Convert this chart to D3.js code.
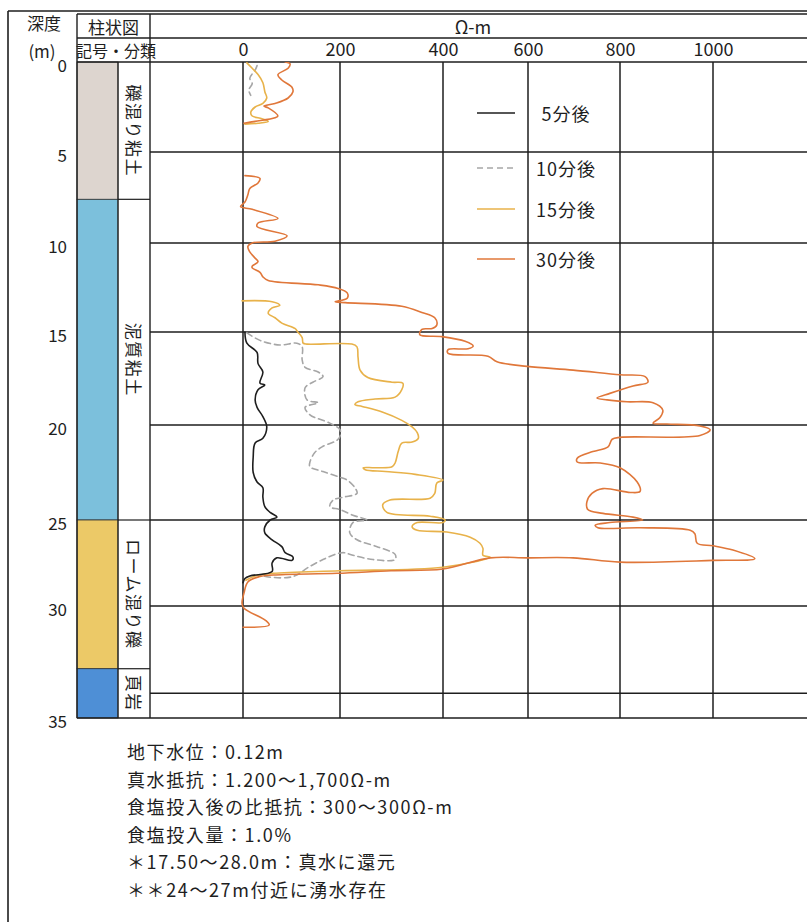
<!DOCTYPE html>
<html><head><meta charset="utf-8">
<script src="https://cdn.jsdelivr.net/npm/d3@7/dist/d3.min.js"></script>
<style>
html,body{margin:0;padding:0;background:#fff;}
svg{display:block;font-family:"Noto Sans CJK JP","Noto Sans",sans-serif;}
</style></head><body>
<svg id="c" width="807" height="922"></svg>
<script>
// ---------------- data ----------------
const resistTicks = [0, 200, 400, 600, 800, 1000];
const depthTicks = [0, 5, 10, 15, 20, 25, 30, 35];
const gridDepths = [5, 10, 15, 20, 25, 30, 33.9];
const unitLabel = "Ω-m";
const strataNames = ["礫混り粘土", "泥質粘土", "ローム混り礫", "頁岩"];
const strataTop = [0, 7.6, 25, 32.8];
const strataBottom = [7.6, 25, 32.8, 35];
const seriesNames = ["5分後", "10分後", "15分後", "30分後"];
const notes = [
  "地下水位：0.12m",
  "真水抵抗：1.200〜1,700Ω-m",
  "食塩投入後の比抵抗：300〜300Ω-m",
  "食塩投入量：1.0%",
  "＊17.50〜28.0m：真水に還元",
  "＊＊24〜27m付近に湧水存在"
];

// [depth (m), resistivity (Ω-m)]
const min5 = [[15.0,4],[15.6,8],[16.1,29],[16.7,31],[17.15,41],[17.75,35],[17.85,45],[18.1,31],[18.65,25],[19.05,29],[19.55,41],[20.1,49],[20.7,41],[20.95,25],[21.7,21],[22.5,21],[23.0,29],[23.3,41],[23.8,41],[24.3,45],[24.6,56],[24.85,70],[25.0,56],[25.4,45],[25.75,45],[26.15,60],[26.55,80],[26.9,87],[27.15,103],[27.35,101],[27.2,70],[27.5,60],[28.0,60],[28.25,14],[28.4,4],[28.65,0]];
const min10Top = [[0.2,29],[0.45,25],[0.9,14],[1.2,19],[1.55,12],[1.85,16]];
const min10 = [[15.05,8],[15.45,35],[15.7,76],[15.6,111],[15.8,122],[16.5,122],[16.9,128],[17.15,155],[17.4,165],[17.7,144],[18.0,128],[18.65,132],[18.8,155],[19.05,128],[19.45,138],[19.9,179],[20.25,200],[20.6,200],[20.8,194],[21.15,163],[21.45,148],[21.95,138],[22.2,138],[22.45,165],[22.75,200],[22.9,214],[23.3,229],[23.6,233],[23.8,206],[23.95,186],[24.3,179],[24.45,200],[24.75,225],[25.0,252],[25.15,225],[25.75,219],[26.15,233],[26.55,272],[27.0,307],[27.3,307],[27.3,264],[27.05,225],[26.9,204],[27.3,165],[27.8,132],[28.2,111],[28.35,91],[28.3,49],[28.2,35]];
const min15Top = [[0.05,8],[0.35,19],[0.7,31],[1.15,41],[1.65,45],[2.0,49],[2.3,41],[2.5,25],[2.8,16],[3.0,19],[3.15,39],[3.3,52],[3.4,31],[3.45,4]];
const min15 = [[13.25,-2],[13.3,60],[13.5,76],[13.65,60],[13.95,52],[14.2,66],[14.5,80],[14.8,107],[15.0,113],[15.3,122],[15.6,124],[15.65,132],[15.65,223],[15.8,233],[16.35,235],[17.05,239],[17.45,254],[17.7,301],[17.75,322],[18.1,320],[18.5,307],[18.6,268],[18.75,235],[18.9,229],[19.0,243],[19.3,282],[19.75,320],[20.1,340],[20.4,350],[20.7,352],[20.9,340],[20.95,320],[21.4,313],[22.0,307],[22.2,301],[22.25,268],[22.25,245],[22.35,249],[22.45,288],[22.6,346],[22.9,400],[23.05,388],[23.6,384],[23.85,375],[23.95,297],[24.2,283],[24.6,291],[24.8,375],[25.0,405],[25.15,400],[25.15,350],[25.4,340],[25.6,350],[25.7,409],[26.0,464],[26.35,487],[26.65,494],[27.05,494],[27.15,511],[27.75,400],[27.95,200],[28.1,62],[28.25,25],[28.5,6]];
const min30Top = [[0,87],[0.1,97],[0.35,93],[0.7,72],[1.0,80],[1.4,101],[1.65,103],[2.0,93],[2.3,66],[2.45,43],[2.55,52],[3.0,72],[3.1,66],[3.3,25],[3.4,2]];
const min30 = [[6.3,4],[6.45,35],[6.7,31],[7.0,14],[7.35,10],[7.75,4],[8.0,-5],[8.15,19],[8.65,72],[8.9,31],[9.1,29],[9.6,91],[9.9,66],[10.0,19],[10.2,10],[10.5,14],[10.85,25],[11.05,31],[11.3,19],[11.4,19],[11.65,35],[11.9,41],[12.1,52],[12.35,155],[12.55,196],[12.8,214],[13.1,214],[13.3,190],[13.35,210],[13.55,320],[13.9,359],[14.2,384],[14.6,388],[14.8,379],[14.85,359],[15.15,355],[15.25,398],[15.5,452],[15.75,471],[15.9,459],[15.95,412],[16.15,412],[16.3,506],[16.6,527],[16.85,598],[17.05,698],[17.3,800],[17.4,854],[17.7,860],[17.9,828],[18.3,778],[18.55,750],[18.65,772],[18.75,815],[18.8,871],[19.2,892],[19.6,886],[19.9,871],[19.95,901],[20.05,972],[20.25,994],[20.55,972],[20.65,800],[20.75,783],[21.15,774],[21.4,741],[21.75,707],[21.95,707],[22.0,757],[22.25,800],[23.0,837],[23.5,843],[23.55,822],[23.35,763],[23.6,739],[24.05,728],[24.45,730],[24.65,763],[24.85,828],[25.0,849],[25.15,778],[25.3,746],[25.45,752],[25.45,843],[25.6,951],[25.8,961],[26.35,966],[26.5,1000],[26.75,1043],[27.25,1090],[27.35,1000],[27.45,800],[27.2,698],[27.2,598],[27.2,511],[27.85,400],[27.95,299],[28.1,194],[28.2,62],[28.3,33],[28.6,10],[29.25,2],[29.85,-2],[30.1,2],[30.65,47],[30.85,54],[30.95,0]];

// ---------------- layout / style ----------------
const W = 807, H = 922;
const svg = d3.select("#c");
svg.append("rect").attr("width", W).attr("height", H).attr("fill", "#fff");

const x = d3.scaleLinear().domain(resistTicks).range([243, 340, 443, 528, 620, 713]);
const y = d3.scaleLinear().domain(depthTicks).range([62, 152, 243, 332, 425, 520, 606, 718]);

const colL = 77, colM = 118, colR = 150, plotR = 807;
const hdrTop = 14, hdrMid = 38;
const ink = "#1e1e1e";
const strataColors = ["#ddd5cf", "#7cc0dc", "#ecc967", "#4e8fd6"];
const seriesColors = ["#1e1e1e", "#a6a6a6", "#e8b24a", "#e0773a"];
const seriesDash = [null, "6,4", null, null];

function hline(x1, x2, yy, w) {
  svg.append("line").attr("x1", x1).attr("x2", x2).attr("y1", yy).attr("y2", yy)
    .attr("stroke", ink).attr("stroke-width", w || 1.4);
}
function vline(xx, y1, y2, w) {
  svg.append("line").attr("x1", xx).attr("x2", xx).attr("y1", y1).attr("y2", y2)
    .attr("stroke", ink).attr("stroke-width", w || 1.4);
}

// strata column
const strata = strataNames.map((n, i) => ({name: n, top: strataTop[i], bot: strataBottom[i], color: strataColors[i]}));
svg.append("g").selectAll("rect").data(strata).join("rect")
  .attr("x", colL).attr("width", colM - colL)
  .attr("y", d => y(d.top)).attr("height", d => y(d.bot) - y(d.top))
  .attr("fill", d => d.color).attr("stroke", "#333").attr("stroke-width", 0.8);
svg.append("g").selectAll("line").data(strata.slice(1)).join("line")
  .attr("x1", colM).attr("x2", colR).attr("y1", d => y(d.top)).attr("y2", d => y(d.top))
  .attr("stroke", ink).attr("stroke-width", 1.2);
svg.append("g").selectAll("text").data(strata).join("text")
  .attr("transform", d => `translate(${(colM + colR) / 2},${(y(d.top) + y(d.bot)) / 2}) rotate(90)`)
  .attr("text-anchor", "middle").attr("dominant-baseline", "central")
  .attr("font-size", 17).attr("letter-spacing", 1.5).attr("fill", ink)
  .text(d => d.name);

// grid
svg.append("g").selectAll("line").data(gridDepths).join("line")
  .attr("x1", colR).attr("x2", plotR).attr("y1", d => y(d)).attr("y2", d => y(d))
  .attr("stroke", ink).attr("stroke-width", 1.5);
svg.append("g").selectAll("line").data(resistTicks).join("line")
  .attr("x1", d => x(d)).attr("x2", d => x(d)).attr("y1", y(0)).attr("y2", y(35))
  .attr("stroke", ink).attr("stroke-width", 1.5);

// frame
hline(8, W, 11, 1.6);
vline(8, 11, H, 1.6);
hline(colL, W, hdrTop, 1.4);
hline(colL, W, hdrMid, 1.4);
hline(colL, W, y(0), 1.5);
hline(colL, W, y(35), 1.5);
vline(colL, hdrTop, y(35), 1.4);
vline(colR, hdrTop, y(35), 1.4);
vline(colM, y(0), y(35), 1.2);

// header texts
const hdr = svg.append("g").attr("fill", ink);
hdr.append("text").attr("x", 44).attr("y", 22).attr("text-anchor", "middle").attr("dominant-baseline", "central").attr("font-size", 17).text("深度");
hdr.append("text").attr("x", 42).attr("y", 50).attr("text-anchor", "middle").attr("dominant-baseline", "central").attr("font-size", 17).text("(m)");
hdr.append("text").attr("x", (colL + colR) / 2).attr("y", 26).attr("text-anchor", "middle").attr("dominant-baseline", "central").attr("font-size", 17).text("柱状図");
hdr.append("text").attr("x", 116).attr("y", 50).attr("text-anchor", "middle").attr("dominant-baseline", "central").attr("font-size", 16).text("記号・分類");
hdr.append("text").attr("x", 473).attr("y", 26).attr("text-anchor", "middle").attr("dominant-baseline", "central").attr("font-size", 18).text(unitLabel);

// axes
const xAxis = svg.append("g").attr("transform", "translate(0,56)")
  .call(d3.axisTop(x).tickValues(resistTicks).tickSize(0).tickPadding(0).tickFormat(d3.format("d")));
xAxis.select(".domain").remove();
xAxis.selectAll("text").attr("font-size", 18).attr("fill", ink).attr("font-family", "Noto Sans CJK JP");

const yAxis = svg.append("g").attr("transform", "translate(67,4)")
  .call(d3.axisLeft(y).tickValues(depthTicks).tickSize(0).tickPadding(0));
yAxis.select(".domain").remove();
yAxis.selectAll("text").attr("font-size", 17).attr("fill", ink).attr("font-family", "Noto Sans CJK JP");

// curves
svg.append("clipPath").attr("id", "plotClip").append("rect")
  .attr("x", colR).attr("y", y(0)).attr("width", plotR - colR).attr("height", y(35) - y(0));
const line = d3.line().x(d => x(d[1])).y(d => y(d[0])).curve(d3.curveCatmullRom.alpha(0.5));
const segs = [
  {s: 1, pts: min10Top}, {s: 1, pts: min10},
  {s: 2, pts: min15Top}, {s: 2, pts: min15},
  {s: 3, pts: min30Top}, {s: 3, pts: min30},
  {s: 0, pts: min5}
];
svg.append("g").attr("clip-path", "url(#plotClip)").selectAll("path").data(segs).join("path")
  .attr("d", d => line(d.pts)).attr("fill", "none")
  .attr("stroke", d => seriesColors[d.s]).attr("stroke-width", 1.6)
  .attr("stroke-dasharray", d => seriesDash[d.s])
  .attr("stroke-linejoin", "round").attr("stroke-linecap", "round");

// legend
const legendY = [113, 168, 209, 259];
const lg = svg.append("g").selectAll("g").data(seriesNames).join("g");
lg.append("line").attr("x1", 477).attr("x2", 515).attr("y1", (d, i) => legendY[i]).attr("y2", (d, i) => legendY[i])
  .attr("stroke", (d, i) => seriesColors[i]).attr("stroke-width", 1.6)
  .attr("stroke-dasharray", (d, i) => seriesDash[i]);
lg.append("text").attr("x", 566).attr("y", (d, i) => legendY[i]).attr("text-anchor", "middle")
  .attr("dominant-baseline", "central").attr("font-size", 18).attr("letter-spacing", 1).attr("fill", ink)
  .text(d => d);

// notes
svg.append("g").selectAll("text").data(notes).join("text")
  .attr("x", 127).attr("y", (d, i) => 751 + i * 27.5).attr("dominant-baseline", "central")
  .attr("font-size", 18).attr("letter-spacing", 1.6).attr("fill", ink)
  .text(d => d);
</script>
</body></html>
